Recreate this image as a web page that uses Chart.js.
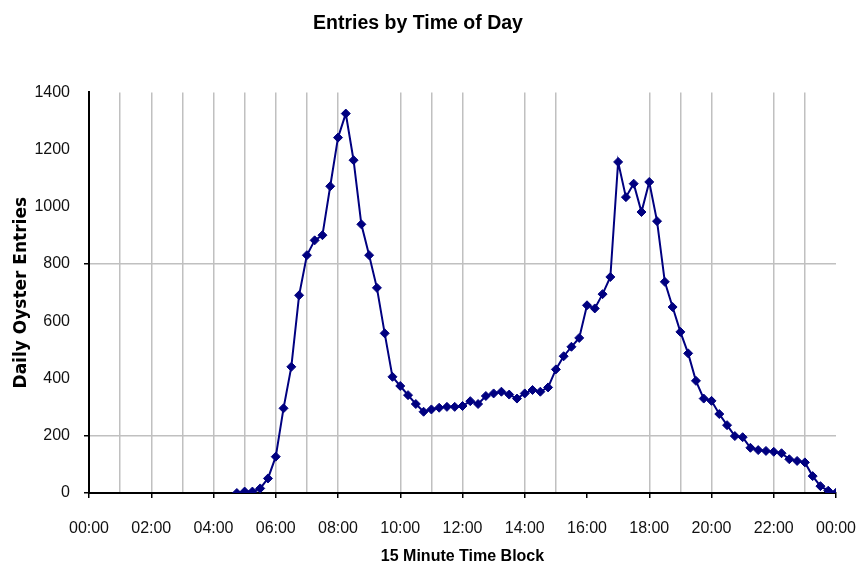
<!DOCTYPE html>
<html lang="en">

<head>
    <meta charset="UTF-8">
    <title>Entries by Time of Day</title>
    <script src="https://cdn.jsdelivr.net/npm/chart.js@4.4.1/dist/chart.umd.min.js"></script>
    <style>
        html, body {
            margin: 0;
            padding: 0;
            background: #fff;
        }
        .wrap {
            width: 866px;
            height: 569px;
        }
    </style>
</head>

<body>
    <div class="wrap">
        <canvas id="chrt" width="866" height="569" aria-label="chart" role="img"></canvas>
    </div>

    <script>
        // 15 minute blocks (start time) and daily entries
        const blocks = [
            '04:45', '05:00', '05:15', '05:30', '05:45', '06:00', '06:15', '06:30', '06:45',
            '07:00', '07:15', '07:30', '07:45', '08:00', '08:15', '08:30', '08:45',
            '09:00', '09:15', '09:30', '09:45', '10:00', '10:15', '10:30', '10:45',
            '11:00', '11:15', '11:30', '11:45', '12:00', '12:15', '12:30', '12:45',
            '13:00', '13:15', '13:30', '13:45', '14:00', '14:15', '14:30', '14:45',
            '15:00', '15:15', '15:30', '15:45', '16:00', '16:15', '16:30', '16:45',
            '17:00', '17:15', '17:30', '17:45', '18:00', '18:15', '18:30', '18:45',
            '19:00', '19:15', '19:30', '19:45', '20:00', '20:15', '20:30', '20:45',
            '21:00', '21:15', '21:30', '21:45', '22:00', '22:15', '22:30', '22:45',
            '23:00', '23:15', '23:30', '23:45', '24:00'
        ]
        const entries = [
            0, 5, 5, 16, 51, 127, 296, 441, 691,
            831, 883, 901, 1072, 1242, 1326, 1163, 939,
            831, 717, 558, 406, 374, 342, 311, 284,
            292, 298, 301, 301, 304, 321, 311, 339,
            348, 354, 344, 330, 348, 360, 354, 369,
            432, 478, 511, 542, 656, 645, 695, 755,
            1157, 1034, 1081, 982, 1087, 950, 738, 650,
            563, 488, 392, 330, 322, 276, 237, 199,
            195, 158, 150, 147, 144, 139, 118, 112,
            107, 59, 24, 8, 1
        ]
        const yMin = 0
        const yMax = 1400
        const yStep = 200

        // grid lines that show in the picture
        const xGridHidden = [0, 9, 13, 16, 17, 21, 24]
        const yGridShown = [200, 800]

        const toHours = s => {
            const p = s.split(':')
            return Number(p[0]) + Number(p[1]) / 60
        }
        const pad2 = n => (n < 10 ? '0' : '') + n

        const points = blocks.map((b, i) => ({ x: toHours(b), y: entries[i] }))

        const navy = '#000080'
        const gridGrey = '#c0c0c0'

        new Chart(document.getElementById('chrt'), {
            type: 'line',
            data: {
                datasets: [
                    {
                        label: 'Daily Oyster Entries',
                        data: points,
                        borderColor: navy,
                        backgroundColor: navy,
                        borderWidth: 2,
                        tension: 0,
                        pointStyle: 'rectRot',
                        pointRadius: 4.5,
                        pointBackgroundColor: navy,
                        pointBorderColor: navy,
                        pointBorderWidth: 1
                    }
                ]
            },
            options: {
                responsive: false,
                animation: false,
                layout: {
                    padding: { left: 0, right: 30, top: 0, bottom: 0 }
                },
                plugins: {
                    legend: { display: false },
                    tooltip: { enabled: false },
                    title: {
                        display: true,
                        text: 'Entries by Time of Day',
                        color: '#000',
                        font: { family: "'Liberation Sans', Arial, sans-serif", size: 19.5, weight: 'bold' },
                        padding: { top: 12, bottom: 57 }
                    }
                },
                scales: {
                    x: {
                        type: 'linear',
                        min: 0,
                        max: 24,
                        afterFit: axis => {
                            axis.height = 76
                            axis.paddingLeft = 0
                            axis.paddingRight = 0
                        },
                        ticks: {
                            stepSize: 1,
                            autoSkip: false,
                            maxRotation: 0,
                            padding: 21,
                            color: '#111',
                            font: { family: "'Liberation Sans', Arial, sans-serif", size: 16 },
                            callback: v => (v % 2 === 0 ? pad2(v % 24) + ':00' : '')
                        },
                        grid: {
                            color: ctx => (xGridHidden.includes(ctx.tick.value) ? 'rgba(0,0,0,0)' : gridGrey),
                            tickColor: ctx => (ctx.tick.value % 2 === 0 ? '#000' : 'rgba(0,0,0,0)'),
                            tickLength: 5,
                            lineWidth: 1.5
                        },
                        border: { display: true, color: '#000', width: 2 },
                        title: {
                            display: true,
                            text: '15 Minute Time Block',
                            color: '#000',
                            font: { family: "'Liberation Sans', Arial, sans-serif", size: 16, weight: 'bold' },
                            padding: { top: 0, bottom: 3 }
                        }
                    },
                    y: {
                        min: yMin,
                        max: yMax,
                        afterFit: axis => { axis.width = 89 },
                        ticks: {
                            stepSize: yStep,
                            padding: 14,
                            color: '#111',
                            font: { family: "'Liberation Sans', Arial, sans-serif", size: 16 },
                            callback: v => String(v)
                        },
                        grid: {
                            color: ctx => (yGridShown.includes(ctx.tick.value) ? gridGrey : 'rgba(0,0,0,0)'),
                            tickColor: ctx => (yGridShown.includes(ctx.tick.value) || ctx.tick.value === 0 ? '#000' : 'rgba(0,0,0,0)'),
                            tickLength: 5,
                            lineWidth: 1.5
                        },
                        border: { display: true, color: '#000', width: 2 },
                        title: {
                            display: true,
                            text: 'Daily Oyster Entries',
                            color: '#000',
                            font: { family: "'DejaVu Sans', sans-serif", size: 17, weight: 'bold' },
                            padding: { top: 11, bottom: 0 }
                        }
                    }
                }
            }
        })
    </script>

</body>

</html>
